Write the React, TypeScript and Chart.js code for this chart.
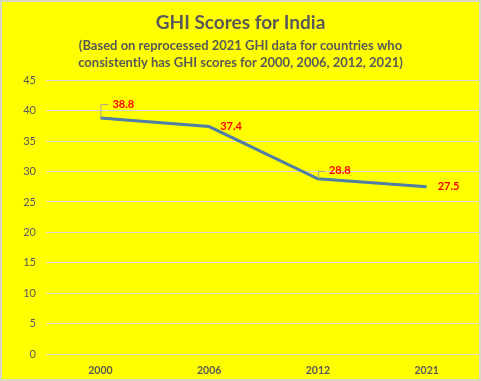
import React, { useEffect, useRef } from "react";
import { Chart, registerables } from "chart.js";

Chart.register(...registerables);

const TITLE = "GHI Scores for India";
const SUBTITLE = [
  "(Based on reprocessed 2021 GHI data for countries who",
  "consistently has GHI scores for 2000, 2006, 2012, 2021)",
];
const YEARS = ["2000", "2006", "2012", "2021"];
const SCORES = [38.8, 37.4, 28.8, 27.5];
const Y_MIN = 0;
const Y_MAX = 45;
const Y_STEP = 5;

// label placement styles: [dx, dy, leader]
const LABEL_STYLE: Array<{ dx: number; dy: number; leader: boolean }> = [
  { dx: 12, dy: -14, leader: true },
  { dx: 11, dy: 0, leader: false },
  { dx: 11, dy: -8, leader: true },
  { dx: 11, dy: 0, leader: false },
];

const bgPlugin = {
  id: "bgPlugin",
  beforeDraw(chart: any) {
    const { ctx, width, height } = chart;
    ctx.save();
    ctx.fillStyle = "#FFFF00";
    ctx.fillRect(0, 0, width, height);
    ctx.restore();
  },
  afterDraw(chart: any) {
    const { ctx, width, height } = chart;
    ctx.save();
    ctx.strokeStyle = "#D9D9C0";
    ctx.lineWidth = 2;
    ctx.strokeRect(1, 1, width - 2, height - 2);
    ctx.restore();
  },
};

const labelPlugin = {
  id: "labelPlugin",
  afterDatasetsDraw(chart: any) {
    const { ctx } = chart;
    const meta = chart.getDatasetMeta(0);
    const data = chart.data.datasets[0].data as number[];
    ctx.save();
    meta.data.forEach((pt: any, i: number) => {
      const s = LABEL_STYLE[i];
      const x = pt.x;
      const y = pt.y;
      if (s.leader) {
        ctx.strokeStyle = "#A6A68A";
        ctx.lineWidth = 1;
        ctx.beginPath();
        ctx.moveTo(x + 0.5, y);
        ctx.lineTo(x + 0.5, y + s.dy + 0.5);
        ctx.lineTo(x + s.dx - 4, y + s.dy + 0.5);
        ctx.stroke();
      }
      ctx.fillStyle = "#FF0000";
      ctx.font = "bold 11px Lato";
      ctx.textAlign = "left";
      ctx.textBaseline = "middle";
      ctx.fillText(data[i].toFixed(1), x + s.dx, y + s.dy);
    });
    ctx.restore();
  },
};

export default function App() {
  const ref = useRef<HTMLCanvasElement | null>(null);
  useEffect(() => {
    if (!ref.current) return;
    const chart = new Chart(ref.current, {
      type: "line",
      data: {
        labels: YEARS,
        datasets: [
          {
            data: SCORES,
            borderColor: "#507EA4",
            borderWidth: 3,
            pointRadius: 0,
            tension: 0,
            fill: false,
          },
        ],
      },
      options: {
        animation: false,
        responsive: true,
        maintainAspectRatio: false,
        layout: { padding: { left: 0, right: 0, top: 0, bottom: 0 } },
        plugins: {
          legend: { display: false },
          tooltip: { enabled: false },
          title: {
            display: true,
            text: TITLE,
            color: "#595959",
            font: { family: "Lato", size: 19, weight: "bold", lineHeight: 1.2 },
            padding: { top: 11, bottom: 0 },
          },
          subtitle: {
            display: true,
            text: SUBTITLE,
            color: "#595959",
            font: { family: "Lato", size: 13, weight: "bold", lineHeight: 1.31 },
            padding: { top: 3, bottom: 9.5 },
          },
        },
        scales: {
          x: {
            offset: true,
            grid: { display: false, drawTicks: false },
            border: { display: false },
            ticks: {
              color: "#595959",
              font: { family: "Lato", size: 10.5, weight: "bold" },
              padding: 10,
              maxRotation: 0,
            },
            afterFit(scale: any) {
              scale.height = 27;
            },
          },
          y: {
            min: Y_MIN,
            max: Y_MAX,
            grid: { color: "#D9D9D9", lineWidth: 1, drawTicks: false },
            border: { display: false },
            ticks: {
              stepSize: Y_STEP,
              color: "#595959",
              font: { family: "Lato", size: 11 },
              padding: 10,
            },
            afterFit(scale: any) {
              scale.width = 46;
            },
          },
        },
      },
      plugins: [bgPlugin, labelPlugin],
    });
    return () => chart.destroy();
  }, []);
  return (
    <div style={{ position: "absolute", left: 0, top: 0, width: 481, height: 381 }}>
      <canvas ref={ref} />
    </div>
  );
}
